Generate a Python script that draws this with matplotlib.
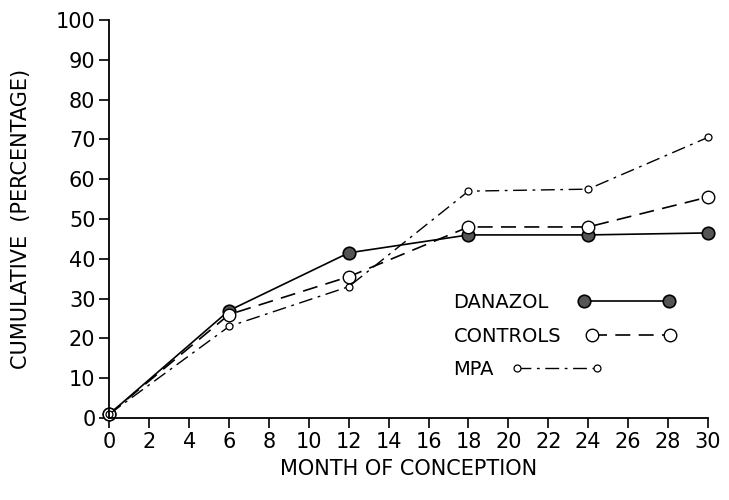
import matplotlib
matplotlib.use("Agg")
import matplotlib.pyplot as plt
from matplotlib.legend import Legend

months = [0, 6, 12, 18, 24, 30]
danazol = [1, 27, 41.5, 46, 46, 46.5]
controls = [1, 26, 35.5, 48, 48, 55.5]
mpa = [1, 23, 33, 57, 57.5, 70.5]
x_ticks = list(range(0, 31, 2))
y_ticks = list(range(0, 101, 10))
names = ['DANAZOL', 'CONTROLS', 'MPA']

plt.rcParams['font.family'] = ['DejaVu Sans']
fig = plt.figure(figsize=(7.29, 5.0), dpi=100)
ax = fig.add_axes([0.150, 0.164, 0.821, 0.796])

l1, = ax.plot(months, danazol, '-', color='black', lw=1.2, marker='o', ms=9,
              mfc='#555555', mec='black', mew=1.2, label=names[0])
l2, = ax.plot(months, controls, color='black', lw=1.2, ls=(0, (9, 5)), marker='o', ms=9,
              mfc='white', mec='black', mew=1.0, label=names[1])
l3, = ax.plot(months, mpa, color='black', lw=1.0, ls=(0, (10, 4, 2, 4)), marker='o', ms=5,
              mfc='white', mec='black', mew=0.9, label=names[2])

ax.set_xlim(0, 30)
ax.set_ylim(0, 100)
ax.set_xticks(x_ticks)
ax.set_yticks(y_ticks)
ax.spines['top'].set_visible(False)
ax.spines['right'].set_visible(False)
for s in ('left', 'bottom'):
    ax.spines[s].set_linewidth(1.3)
ax.tick_params(direction='out', length=7, width=1.2, labelsize=15, pad=3)
ax.set_xlabel('MONTH OF CONCEPTION', fontsize=15, labelpad=5)
ax.set_ylabel('CUMULATIVE  (PERCENTAGE)', fontsize=15, labelpad=18)
for l in ax.lines:
    l.set_clip_on(False)

specs = [(l1, names[0], 0.291, 5.0, 1.5), (l2, names[1], 0.206, 4.6, 1.3),
         (l3, names[2], 0.123, 4.7, 0.9)]
for line, name, yy, hl, tp in specs:
    lg = Legend(ax, [line], [name], loc='center left', bbox_to_anchor=(0.575, yy),
                frameon=False, markerfirst=False, numpoints=2, handlelength=hl,
                handletextpad=tp, fontsize=14, borderpad=0, borderaxespad=0)
    ax.add_artist(lg)
fig.savefig('out.png', dpi=100)
